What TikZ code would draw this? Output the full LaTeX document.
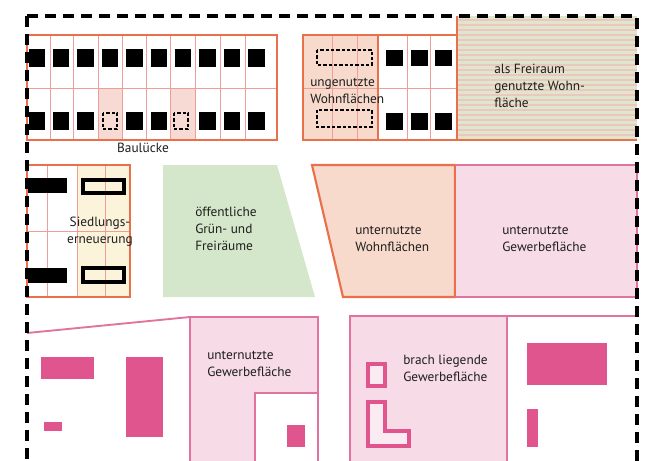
\documentclass[tikz,border=0pt]{standalone}
\usepackage{fontspec}
\setmainfont{PT Sans}
\definecolor{orng}{HTML}{E8704A}
\definecolor{gridc}{HTML}{EE9E98}
\definecolor{salm}{HTML}{F8DACC}
\definecolor{cellp}{HTML}{F8DAD4}
\definecolor{cream}{HTML}{FBF4DA}
\definecolor{grn}{HTML}{D4E7CA}
\definecolor{stripeg}{HTML}{DFE6CE}
\definecolor{stripep}{HTML}{EDC7BE}
\definecolor{pinkb}{HTML}{E0749E}
\definecolor{pinkf}{HTML}{F7DCE8}
\definecolor{pinks}{HTML}{E0558E}
\definecolor{txt}{HTML}{1E1E1E}
\tikzset{
  lbl/.style={font=\fontsize{10}{12.75}\selectfont, text=txt, inner sep=0pt, align=left, anchor=west},
  gridl/.style={draw=gridc, line width=0.6pt},
  obox/.style={draw=orng, line width=1.6pt},
  pbox/.style={draw=pinkb, line width=1.4pt},
  blk/.style={fill=black},
  gapbox/.style={draw=black, line width=1.5pt, dash pattern=on 2.5pt off 1.5pt},
  outbox/.style={draw=black, line width=3pt},
  border/.style={draw=black, line width=3.6pt, dash pattern=on 8.5pt off 5pt}
}
\begin{document}
\begin{tikzpicture}[x=0.75pt,y=-0.75pt]
\useasboundingbox (0,0) rectangle (654,461);
\fill[white] (0,0) rectangle (654,461);
\begin{scope}
\clip (0,0) rectangle (654,461);

% ---------- top left block ----------
\fill[cellp] (98,88) rectangle (122,140);
\fill[cellp] (170,88) rectangle (195,140);
\foreach \x in {50,73,98,122,146,170,195,220,245} \draw[gridl] (\x,35) -- (\x,140);
\draw[gridl] (27,88) -- (277,88);
\foreach \i in {0,...,9} \fill[blk] ({28.5+24.4*\i},49) rectangle ++(16.5,17.5);
\foreach \i in {0,1,2,4,5,7,8,9} \fill[blk] ({28.5+24.4*\i},112) rectangle ++(16.5,18);
\draw[gapbox] (103,113) rectangle ++(14,16);
\draw[gapbox] (174,113) rectangle ++(14,16);
\draw[obox] (27,35) rectangle (277,140);
\node[lbl, anchor=center] (baul) at (143,148) {Baulücke};

% ---------- top middle block ----------
\fill[salm] (303,35) rectangle (378,140);
\foreach \x in {332,357,407,430} \draw[gridl] (\x,35) -- (\x,140);
\draw[gridl] (303,88) -- (457,88);
\draw[orng, line width=1.2pt] (378,35) -- (378,140);
\draw[gapbox] (317,50) rectangle (372,65);
\draw[gapbox] (317,110) rectangle (372,127);
\foreach \x in {386,411,435} {
  \fill[blk] (\x,50) rectangle ++(17,16);
  \fill[blk] (\x,113) rectangle ++(17,17);
}
\draw[obox] (303,35) rectangle (457,140);
\node[lbl] (ungen) at (310,90.5) {ungenutzte\\Wohnflächen};

% ---------- striped area ----------
\fill[stripeg] (457,16) rectangle (637,140);
\foreach \y in {20,25,...,138} \draw[stripep, line width=1.9pt] (457,\y) -- (637,\y);
\draw[obox] (457,16) -- (457,140) -- (637,140);
\node[lbl] (frei) at (494,86) {als Freiraum\\genutzte Wohn-\\fläche};

% ---------- Siedlungserneuerung ----------
\fill[cream] (77,165) rectangle (130,297);
\foreach \x in {47,77,105} \draw[gridl] (\x,165) -- (\x,297);
\draw[gridl] (27,231) -- (130,231);
\fill[blk] (27,178) rectangle (67,193);
\fill[blk] (27,268) rectangle (67,283);
\draw[outbox] (83,180) rectangle (124,193);
\draw[outbox] (83,268) rectangle (124,282);
\draw[obox] (27,165) rectangle (130,297);
\node[lbl, align=center, anchor=center] (sied) at (100,232) {Siedlungs-\\erneuerung};

% ---------- green ----------
\fill[grn] (163,165) -- (277,165) -- (315,297) -- (163,297) -- cycle;
\node[lbl] (gruen) at (195,229) {öffentliche\\Grün- und\\Freiräume};

% ---------- middle right ----------
\filldraw[fill=salm, draw=orng, line width=1.6pt] (312,165) -- (455,165) -- (455,297) -- (343,297) -- cycle;
\node[lbl] (unwohn) at (355,238.5) {unternutzte\\Wohnflächen};
\filldraw[fill=pinkf, draw=pinkb, line width=1.4pt] (455,165) rectangle (637,297);
\draw[orng, line width=1.6pt] (455,165) -- (455,297);
\node[lbl] (ungew1) at (502,239) {unternutzte\\Gewerbefläche};

% ---------- bottom left ----------
\draw[pbox] (27,333) -- (190,317);
\filldraw[fill=pinkf, draw=pinkb, line width=1.4pt] (190,317) rectangle (318,475);
\filldraw[fill=white, draw=pinkb, line width=1pt] (255,393) rectangle (318,475);
\fill[pinks] (287,425) rectangle (305,447);
\fill[pinks] (41,357) rectangle (94,379);
\fill[pinks] (126,357) rectangle (163,437);
\fill[pinks] (44,422) rectangle (62,431);
\node[lbl] (ungew2) at (207,363.5) {unternutzte\\Gewerbefläche};

% ---------- bottom right ----------
\draw[pbox] (350,316) -- (637,316);
\filldraw[fill=pinkf, draw=pinkb, line width=1.4pt] (350,316) rectangle (507,475);
\fill[pinks] (527,343) rectangle (607,385);
\fill[pinks] (527,409) rectangle (538,447);
\filldraw[fill=pinkf!60!white, draw=pinks, line width=2.6pt] (368,364) rectangle (385,386);
\filldraw[fill=pinkf!60!white, draw=pinks, line width=2.6pt]
  (368,402) -- (385,402) -- (385,431) -- (409,431) -- (409,446) -- (368,446) -- cycle;
\node[lbl] (brach) at (403,368.5) {brach liegende\\Gewerbefläche};

% ---------- dashed boundary ----------
\draw[border] (27,16) -- (27,475);
\draw[border] (27,16) -- (637,16) -- (637,475);
\end{scope}
\end{tikzpicture}
\end{document}
